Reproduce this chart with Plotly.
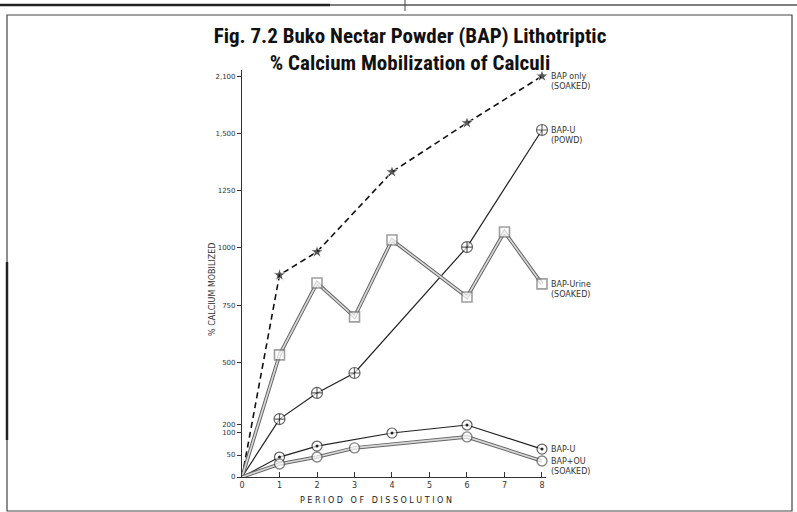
import plotly.graph_objects as go

# ---------------- data ----------------
# y values are read against the linear part of the hand-drawn scale
bap_only_x = [0, 1, 2, 4, 6, 8]
bap_only_y = [0, 882, 983, 1332, 1546, 1750]

bap_u_powd_x = [0, 1, 2, 3, 6, 8]
bap_u_powd_y = [0, 253, 367, 454, 1004, 1515]

bap_urine_x = [0, 1, 2, 3, 4, 6, 7, 8]
bap_urine_y = [0, 533, 847, 699, 1035, 786, 1070, 843]

bap_u_x = [0, 1, 2, 4, 6, 8]
bap_u_y = [0, 87, 135, 192, 227, 122]

bap_ou_x = [0, 1, 2, 3, 6, 8]
bap_ou_y = [0, 57, 87, 127, 175, 70]

x_ticks = [0, 1, 2, 3, 4, 5, 6, 7, 8]
y_tick_vals = [0, 96, 196, 230, 500, 750, 1000, 1250, 1500, 1750]
y_tick_text = ["0", "50", "100", "200", "500", "750", "1000", "1250", "1,500", "2,100"]

series_labels = {
    "bap_only": "BAP only<br>(SOAKED)",
    "bap_u_powd": "BAP-U<br>(POWD)",
    "bap_urine": "BAP-Urine<br>(SOAKED)",
    "bap_u": "BAP-U",
    "bap_ou": "BAP+OU<br>(SOAKED)",
}

# ---------------- layout geometry ----------------
W, H = 797, 512
L, R, T, B = 242, 251, 70, 35
PW = W - L - R
PH = H - T - B
X_MAX = 8.107
Y_MAX = 1777


def px_x(p):
    return (p - L) / PW


def px_y(p):
    return (H - B - p) / PH


def hide_first(n, s):
    return [0] + [s] * (n - 1)


fig = go.Figure()

# BAP only (soaked) - dashed with stars
fig.add_trace(go.Scatter(
    x=bap_only_x, y=bap_only_y, mode="lines+markers",
    line=dict(color="#111", width=1.6, dash="6px,4px"),
    marker=dict(symbol="star", size=hide_first(len(bap_only_x), 10), color="#111"),
    cliponaxis=False, showlegend=False))

# BAP-U (powd) - solid with circle-cross
fig.add_trace(go.Scatter(
    x=bap_u_powd_x, y=bap_u_powd_y, mode="lines+markers",
    line=dict(color="#222", width=1.2),
    marker=dict(symbol="circle-cross", size=hide_first(len(bap_u_powd_x), 11),
                color="white", line=dict(color="#222", width=1.2)),
    cliponaxis=False, showlegend=False))

# BAP-Urine (soaked) - grey double line with squares
fig.add_trace(go.Scatter(
    x=bap_urine_x, y=bap_urine_y, mode="lines",
    line=dict(color="#666", width=3.6), cliponaxis=False, showlegend=False))
fig.add_trace(go.Scatter(
    x=bap_urine_x, y=bap_urine_y, mode="lines+markers",
    line=dict(color="#d9d9d9", width=1.6),
    marker=dict(symbol="square", size=hide_first(len(bap_urine_x), 10),
                color="white", line=dict(color="#777", width=1.6)),
    cliponaxis=False, showlegend=False))

# BAP-U - solid with circle-dot
fig.add_trace(go.Scatter(
    x=bap_u_x, y=bap_u_y, mode="lines+markers",
    line=dict(color="#222", width=1.2),
    marker=dict(symbol="circle", size=hide_first(len(bap_u_x), 10),
                color="white", line=dict(color="#222", width=1.2)),
    cliponaxis=False, showlegend=False))
fig.add_trace(go.Scatter(
    x=bap_u_x[1:], y=bap_u_y[1:], mode="markers",
    marker=dict(symbol="circle", size=3, color="#222"),
    cliponaxis=False, showlegend=False))

# BAP+OU (soaked) - grey double line with open circles
fig.add_trace(go.Scatter(
    x=bap_ou_x, y=bap_ou_y, mode="lines",
    line=dict(color="#666", width=3.6), cliponaxis=False, showlegend=False))
fig.add_trace(go.Scatter(
    x=bap_ou_x, y=bap_ou_y, mode="lines+markers",
    line=dict(color="#d9d9d9", width=1.6),
    marker=dict(symbol="circle", size=hide_first(len(bap_ou_x), 10),
                color="white", line=dict(color="#555", width=1.4)),
    cliponaxis=False, showlegend=False))

annotations = []
label_font = dict(family="DejaVu Sans", size=8, color="#333")
for key, xs, ys in [("bap_only", bap_only_x, bap_only_y),
                    ("bap_u_powd", bap_u_powd_x, bap_u_powd_y),
                    ("bap_urine", bap_urine_x, bap_urine_y),
                    ("bap_u", bap_u_x, bap_u_y),
                    ("bap_ou", bap_ou_x, bap_ou_y)]:
    txt = series_labels[key]
    annotations.append(dict(
        x=xs[-1], y=ys[-1], xref="x", yref="y", text=txt, showarrow=False,
        xanchor="left", yanchor="middle" if "<br>" not in txt else "top",
        yshift=6 if "<br>" in txt else 0,
        xshift=7, align="left", font=label_font))

# axis titles
annotations.append(dict(
    x=px_x(212), y=px_y(290), xref="paper", yref="paper",
    text="% CALCIUM MOBILIZED", textangle=-90, showarrow=False,
    xanchor="center", yanchor="middle",
    font=dict(family="DejaVu Sans", size=8, color="#333")))
annotations.append(dict(
    x=px_x(376), y=px_y(500), xref="paper", yref="paper",
    text="P E R I O D   O F   D I S S O L U T I O N", showarrow=False,
    xanchor="center", yanchor="middle",
    font=dict(family="DejaVu Sans", size=8, color="#222")))

# frame shapes (paper coords)
shapes = [
    dict(type="line", xref="paper", yref="paper", x0=px_x(0), x1=px_x(797),
         y0=px_y(5), y1=px_y(5), line=dict(color="#555", width=1.5)),
    dict(type="line", xref="paper", yref="paper", x0=px_x(0), x1=px_x(330),
         y0=px_y(5), y1=px_y(5), line=dict(color="#222", width=2.5)),
    dict(type="line", xref="paper", yref="paper", x0=px_x(405), x1=px_x(405),
         y0=px_y(0), y1=px_y(11), line=dict(color="#444", width=1)),
    dict(type="rect", xref="paper", yref="paper", x0=px_x(7), x1=px_x(792),
         y0=px_y(511), y1=px_y(15), line=dict(color="#444", width=1.2)),
    dict(type="line", xref="paper", yref="paper", x0=px_x(7), x1=px_x(7),
         y0=px_y(262), y1=px_y(440), line=dict(color="#222", width=2.5)),
]

fig.update_layout(
    width=W, height=H,
    margin=dict(l=L, r=R, t=T, b=B, pad=0),
    paper_bgcolor="white", plot_bgcolor="white",
    title=dict(
        text="<b>Fig. 7.2 Buko Nectar Powder (BAP) Lithotriptic<br>% Calcium Mobilization of Calculi</b>",
        x=410 / W, xanchor="center",
        y=1 - 43 / H, yanchor="middle",
        font=dict(family="Liberation Sans Narrow, Roboto Condensed, Liberation Sans, Arial", size=21, color="#111")),
    xaxis=dict(range=[0, X_MAX], tickvals=x_ticks, ticktext=[str(v) for v in x_ticks],
               showgrid=False, zeroline=False, showline=True, linecolor="#333", linewidth=1.2,
               ticks="inside", ticklen=5, tickcolor="#333",
               tickfont=dict(family="DejaVu Sans", size=8, color="#333")),
    yaxis=dict(range=[0, Y_MAX], tickvals=y_tick_vals, ticktext=y_tick_text,
               showgrid=False, zeroline=False, showline=True, linecolor="#333", linewidth=1.2,
               ticks="outside", ticklen=4, tickcolor="#333",
               tickfont=dict(family="DejaVu Sans", size=7, color="#333")),
    annotations=annotations, shapes=shapes,
)

fig.write_html("out.html", post_script="document.body.style.margin='0';",
               config={"displayModeBar": False})
